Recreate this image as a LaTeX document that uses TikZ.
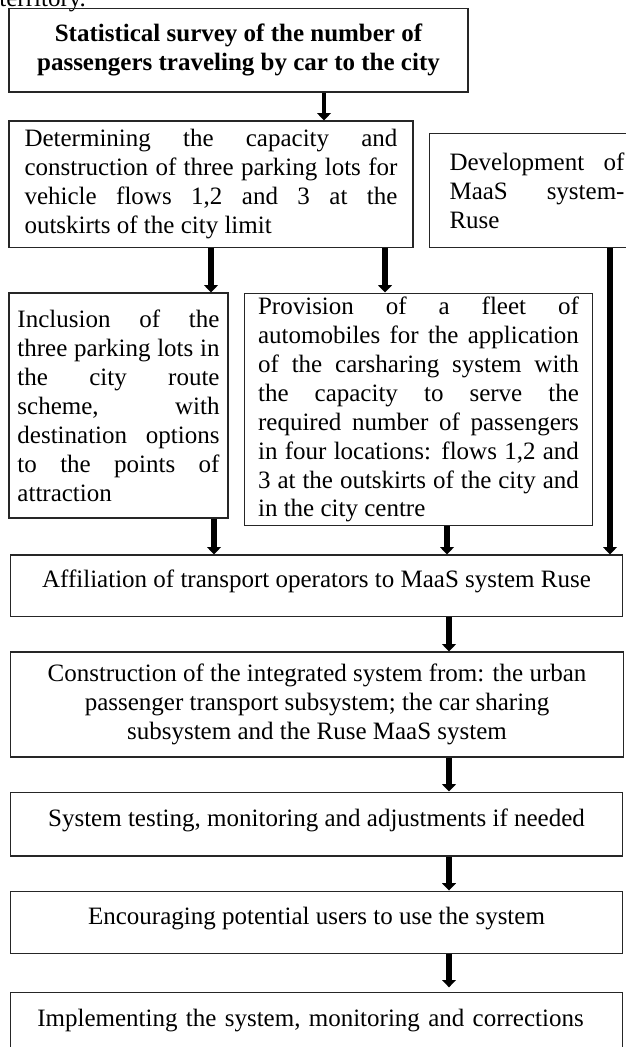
\documentclass[tikz,border=0pt]{standalone}
\usepackage{fontspec}
\setmainfont{Liberation Serif}
\usetikzlibrary{arrows.meta}
\newcommand{\boxfont}{\fontsize{12pt}{13.9pt}\selectfont}
\hyphenpenalty=10000
\tolerance=9999
\begin{document}
\begin{tikzpicture}[x=0.48pt, y=-0.48pt,
    every node/.style={font=\boxfont},
    box/.style={draw=black!85, line width=0.5pt, inner ysep=1pt},
    onerow/.style={box, minimum width=294.2pt, text height=8.5pt, text depth=6.5pt},
    flow/.style={line width=3.2pt, -{Triangle[width=6.5pt, length=3.5pt]}}]
    \useasboundingbox (0,0) rectangle (625,1047);
    \node[anchor=base west, inner sep=0] (terr) at (-1,6) {territory.};
    % top part
    \node[box, font=\boxfont\bfseries, align=center, minimum width=220.3pt, minimum height=40.3pt] (survey) at (238.5,50) {Statistical survey of the number of\\ passengers traveling by car to the city};
    \node[box, align=justify, text width=179pt, inner xsep=6pt, minimum width=193.9pt, minimum height=60.5pt] (cap) at (211,184) {Determining the capacity and\linebreak construction of three parking lots for\linebreak vehicle flows 1,2 and 3 at the\linebreak outskirts of the city limit};
    \node[box, anchor=north west, align=justify, text width=84pt, inner xsep=9.6pt, minimum height=54.7pt] (maas) at (429,133) {Development of\linebreak MaaS system-\linebreak Ruse};
    \node[box, align=justify, text width=97pt, inner xsep=3pt, minimum width=105.1pt, minimum height=108pt] (incl) at (118.5,405.5) {Inclusion of the\linebreak three parking lots in\linebreak the city route\linebreak scheme, with\linebreak destination options\linebreak to the points of\linebreak attraction};
    \node[box, align=justify, text width=154pt, inner xsep=4pt, minimum width=166.6pt, minimum height=111.8pt] (prov) at (418.5,409.5) {Provision of a fleet of\linebreak automobiles for the application\linebreak of the carsharing system with\linebreak the capacity to serve the\linebreak required number of passengers\linebreak in four locations: flows 1,2 and\linebreak 3 at the outskirts of the city and\linebreak in the city centre};
    % lower chain
    \node[onerow, minimum height=29.3pt] (affil) at (316.5,585.5) {Affiliation of transport operators to MaaS system Ruse};
    \node[box, align=center, minimum width=293.8pt, minimum height=50.4pt] (constr) at (317,704.5) {Construction of the integrated system from: the urban\\ passenger transport subsystem; the car sharing\\ subsystem and the Ruse MaaS system};
    \node[onerow, minimum height=30.7pt] (test) at (316.5,824) {System testing, monitoring and adjustments if needed};
    \node[onerow, minimum height=30.2pt] (enc) at (316.5,922.5) {Encouraging potential users to use the system};
    \node[onerow, align=left, text width=268pt, inner xsep=13.1pt, minimum height=30.7pt] (impl) at (316.5,1024) {Implementing the system, monitoring and corrections};
    % arrows
    \draw[flow, line width=2pt] (survey.south -| 324,0) -- (cap.north -| 324,0);
    \draw[flow] (cap.south -| 211,0) -- (incl.north -| 211,0);
    \draw[flow] (cap.south -| 385,0) -- (prov.north -| 385,0);
    \draw[flow] (maas.south -| 610,0) -- (affil.north -| 610,0);
    \draw[flow] (incl.south -| 214,0) -- (affil.north -| 214,0);
    \draw[flow] (prov.south -| 447,0) -- (affil.north -| 447,0);
    \draw[flow] (affil.south -| 449,0) -- (constr.north -| 449,0);
    \draw[flow] (constr.south -| 449,0) -- (test.north -| 449,0);
    \draw[flow] (test.south -| 449,0) -- (enc.north -| 449,0);
    \draw[flow] (enc.south -| 449,0) -- ([yshift=2pt]impl.north -| 449,0);
\end{tikzpicture}
\end{document}
